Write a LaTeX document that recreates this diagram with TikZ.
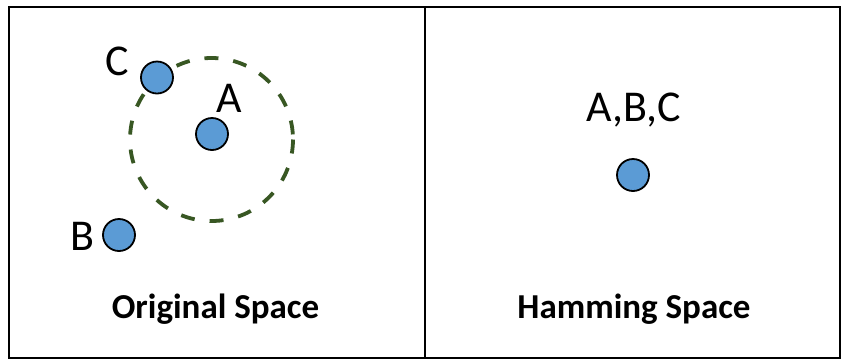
\documentclass[tikz,border=0pt]{standalone}
\usepackage{fontspec}
\setmainfont{Carlito}
\begin{document}
\begin{tikzpicture}[x=1pt,y=-1pt,
  pt/.style={circle,draw=black,line width=1.8pt,fill=dotblue,minimum size=32pt,inner sep=0pt},
  lab/.style={font=\fontsize{44}{48}\selectfont,inner sep=0pt,anchor=center},
  title/.style={font=\bfseries\fontsize{35}{40}\selectfont,inner sep=0pt,anchor=base},
  frame/.style={draw=black,line width=2.5pt}]
\definecolor{dotblue}{HTML}{5B9BD5}
\definecolor{dgreen}{HTML}{385723}
\useasboundingbox (0,0) rectangle (842,360);
\fill[white] (0,0) rectangle (842,360);
% frames
\node[frame,minimum width=416pt,minimum height=351pt,inner sep=0pt] (left) at (217,182.5) {};
\node[frame,minimum width=415pt,minimum height=351pt,inner sep=0pt] (right) at (632.5,182.5) {};
% dashed neighbourhood
\draw[dgreen,line width=3.8pt,dash pattern=on 14pt off 15pt] (211.5,139.5) circle[radius=81.5];
% points
\node[pt] (C) at (157,77.5) {};
\node[pt] (A) at (212,134) {};
\node[pt] (B) at (119,235) {};
\node[pt] (H) at (633,175) {};
% labels
\node[lab] (lC) at (117,61) {C};
\node[lab] (lA) at (229,98) {A};
\node[lab] (lB) at (82,236) {B};
\node[lab] (lH) at (634,110) {A,B,C};
\node[title] (tO) at (215.5,318) {Original Space};
\node[title] (tH) at (634,318) {Hamming Space};
\end{tikzpicture}
\end{document}
